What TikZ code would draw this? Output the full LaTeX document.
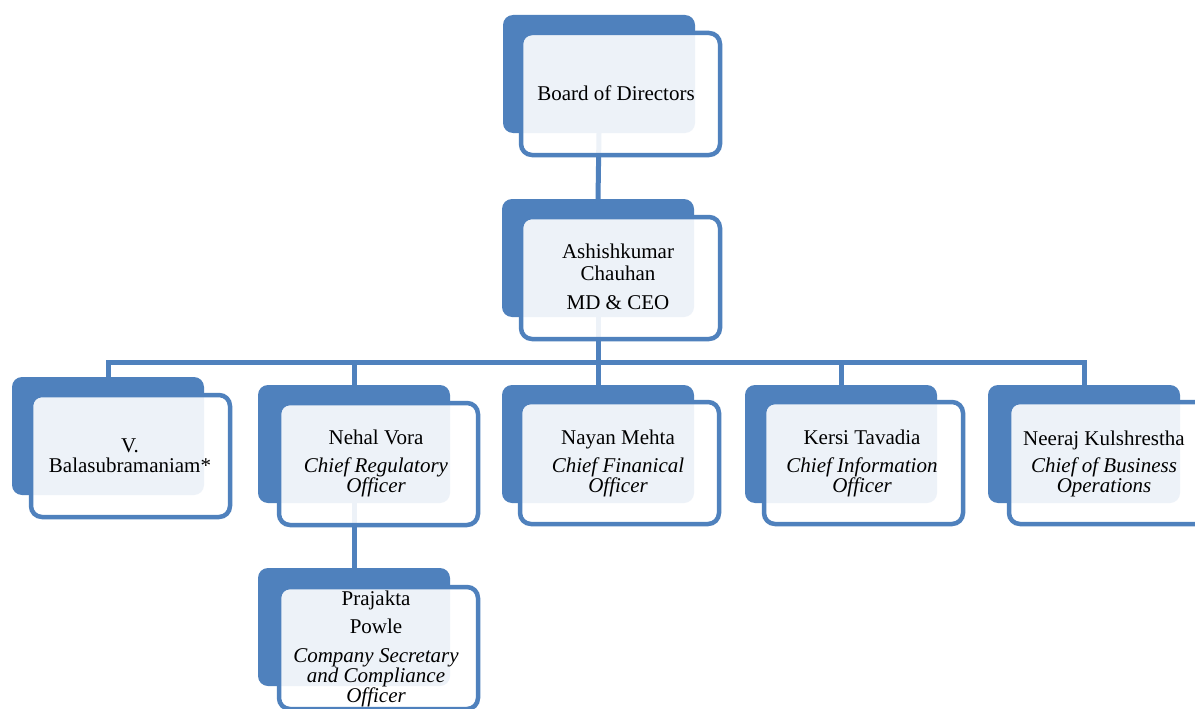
\documentclass[tikz,border=0pt]{standalone}
\usepackage{fontspec}
\setmainfont{Liberation Serif}
\definecolor{obl}{HTML}{4F81BD}
\begin{document}
\begin{tikzpicture}[x=1pt,y=-1pt,
  backbox/.style={rectangle,rounded corners=10pt,fill=obl,draw=none,inner sep=0pt,outer sep=0pt,minimum width=192pt,minimum height=118pt,anchor=north west},
  frontbox/.style={rectangle,rounded corners=11pt,draw=obl,line width=4.5pt,fill=white,fill opacity=0.9,inner sep=0pt,outer sep=0pt,minimum width=199pt,minimum height=122pt,anchor=north west},
  link/.style={draw=obl,line width=5pt},
  nm/.style={font=\fontsize{21}{24}\selectfont,inner sep=0pt,anchor=base,text=black},
  ttl/.style={font=\fontsize{21}{24}\selectfont\itshape,inner sep=0pt,anchor=base,text=black}]
\useasboundingbox (0,0) rectangle (1195,709);
\clip (0,0) rectangle (1195,709);
\fill[white] (0,0) rectangle (1195,709);
% back boxes
\node[backbox] (bBoard) at (503,15) {};
\node[backbox] (bCEO) at (502,199) {};
\node[backbox] (bV) at (12,377) {};
\node[backbox] (bNehal) at (258,385) {};
\node[backbox] (bNayan) at (502,385) {};
\node[backbox] (bKersi) at (745,385) {};
\node[backbox] (bNeeraj) at (988,385) {};
\node[backbox] (bPraj) at (258,568) {};
% connectors
\coordinate (bus) at (598,362);
\draw[link] (bBoard.south) -- (bCEO.north);
\draw[link] (bCEO.south) -- (bus);
\draw[link] (bV.north) |- (bus);
\draw[link] (bNeeraj.north) |- (bus);
\draw[link] (bNehal.north) -- (bNehal.north |- bus);
\draw[link] (bNayan.north) -- (bNayan.north |- bus);
\draw[link] (bKersi.north) -- (bKersi.north |- bus);
\draw[link] (bNehal.south) -- (bPraj.north);
% front boxes
\node[frontbox] (fBoard) at (521,33) {};
\node[frontbox] (fCEO) at (521,217) {};
\node[frontbox] (fV) at (31,395) {};
\node[frontbox] (fNehal) at (279,403) {};
\node[frontbox] (fNayan) at (520,402) {};
\node[frontbox] (fKersi) at (764,402) {};
\node[frontbox] (fNeeraj) at (1009,402) {};
\node[frontbox] (fPraj) at (279,587) {};
% texts
\node[nm] (tBoard) at (616,101) {Board of Directors};
\node[nm] (tCEOa) at (618,258) {Ashishkumar};
\node[nm] (tCEOb) at (618,280) {Chauhan};
\node[nm] (tCEOc) at (618,309) {MD \& CEO};
\node[nm] (tVa) at (130,452) {V.};
\node[nm] (tVb) at (130,472) {Balasubramaniam*};
\node[nm] (tNehala) at (376,444) {Nehal Vora};
\node[ttl] (tNehalb) at (376,472) {Chief Regulatory};
\node[ttl] (tNehalc) at (376,492) {Officer};
\node[nm] (tNayana) at (618,444) {Nayan Mehta};
\node[ttl] (tNayanb) at (618,472) {Chief Finanical};
\node[ttl] (tNayanc) at (618,492) {Officer};
\node[nm] (tKersia) at (862,444) {Kersi Tavadia};
\node[ttl] (tKersib) at (862,472) {Chief Information};
\node[ttl] (tKersic) at (862,492) {Officer};
\node[nm] (tNeeraja) at (1104,445) {Neeraj Kulshrestha};
\node[ttl] (tNeerajb) at (1104,472) {Chief of Business};
\node[ttl] (tNeerajc) at (1104,492) {Operations};
\node[nm] (tPraja) at (376,605) {Prajakta};
\node[nm] (tPrajb) at (376,633) {Powle};
\node[ttl] (tPrajc) at (376,662) {Company Secretary};
\node[ttl] (tPrajd) at (376,682) {and Compliance};
\node[ttl] (tPraje) at (376,702) {Officer};
\end{tikzpicture}
\end{document}
